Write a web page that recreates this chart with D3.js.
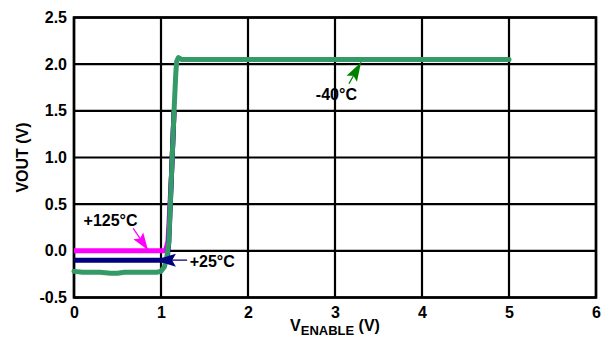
<!DOCTYPE html>
<html><head><meta charset="utf-8">
<script src="https://cdn.jsdelivr.net/npm/d3@7"></script>
<style>body{margin:0;background:#fff}svg{display:block}</style>
</head><body><svg id="c" width="612" height="339" font-family="Liberation Sans, Arial, sans-serif" font-weight="bold"></svg>
<script>
const xTicks = [0,1,2,3,4,5,6];
const yTicks = [-0.5,0.0,0.5,1.0,1.5,2.0,2.5];
const yTickLabels = ["-0.5","0.0","0.5","1.0","1.5","2.0","2.5"];
const xGreen = [0,0.1,0.3,0.42,0.5,0.58,0.7,0.95,1.0,1.04,1.07,1.09,1.12,1.15,1.17,1.18,1.2,1.24,1.5,3,5];
const yGreen = [-0.22,-0.23,-0.23,-0.24,-0.24,-0.23,-0.23,-0.23,-0.22,-0.17,-0.05,0.1,0.8,1.5,1.9,2.03,2.07,2.05,2.05,2.05,2.05];
const xMag = [0,1.05,1.08,1.12,1.15];
const yMag = [0,0,0.1,0.8,1.5];
const xNavy = [0,1.07,1.09,1.12,1.15];
const yNavy = [-0.1,-0.1,0.1,0.8,1.5];
const labels = ["+125°C","+25°C","-40°C"];

const FONT = "Liberation Sans, Arial, sans-serif";
const svg = d3.select("#c");
const L=74,R=596,T=17.5,B=297.5;
const x = d3.scaleLinear().domain([0,6]).range([L,R]);
const y = d3.scaleLinear().domain([-0.5,2.5]).range([B,T]);

const grid = svg.append("g").attr("stroke","#000").attr("stroke-width",2.2);
xTicks.forEach(t=>grid.append("line").attr("x1",x(t)).attr("x2",x(t)).attr("y1",T).attr("y2",B));
yTicks.forEach(t=>grid.append("line").attr("x1",L).attr("x2",R).attr("y1",y(t)).attr("y2",y(t)));
grid.append("rect").attr("x",L).attr("y",T).attr("width",R-L).attr("height",B-T).attr("fill","none").attr("stroke-width",2.6);

const xAxis = svg.append("g").attr("transform",`translate(0,${B})`).call(d3.axisBottom(x).tickValues(xTicks).tickFormat(d3.format("d")).tickSize(0).tickPadding(7));
const yAxis = svg.append("g").attr("transform",`translate(${L},0)`).call(d3.axisLeft(y).tickValues(yTicks).tickFormat((d,i)=>yTickLabels[i]).tickSize(0).tickPadding(7));
[xAxis,yAxis].forEach(a=>{a.select(".domain").remove();a.attr("font-family",FONT).attr("font-size",16);a.selectAll("text").attr("font-weight","bold").attr("fill","#000");});
xAxis.selectAll("text").attr("dy","0.85em");

const line = d3.line().x(d=>x(d[0])).y(d=>y(d[1]));
const z=(a,b)=>a.map((v,i)=>[v,b[i]]);
svg.append("path").attr("d",line(z(xMag,yMag))).attr("fill","none").attr("stroke","#ff00ff").attr("stroke-width",5);
svg.append("path").attr("d",line(z(xNavy,yNavy))).attr("fill","none").attr("stroke","#000080").attr("stroke-width",5);
svg.append("path").attr("d",line(z(xGreen,yGreen))).attr("fill","none").attr("stroke","#349a68").attr("stroke-width",5).attr("stroke-linejoin","round").attr("stroke-linecap","round");

function arrow(x1,y1,x2,y2,col,hl,hw){
  svg.append("line").attr("x1",x1).attr("y1",y1).attr("x2",x2).attr("y2",y2).attr("stroke",col).attr("stroke-width",1.3);
  const a=Math.atan2(y2-y1,x2-x1);
  const bx=x2-hl*Math.cos(a), by=y2-hl*Math.sin(a);
  const px=-Math.sin(a)*hw/2, py=Math.cos(a)*hw/2;
  const mx=x2-hl*0.82*Math.cos(a), my=y2-hl*0.82*Math.sin(a);
  svg.append("path").attr("d",`M${x2},${y2}L${bx+px},${by+py}L${mx},${my}L${bx-px},${by-py}Z`).attr("fill",col);
}
arrow(x(0.68),y(0.24),x(0.85),y(0.01),"#ff00ff",17,12);
arrow(x(1.3),y(-0.1),x(0.93),y(-0.1),"#000080",21,13);
arrow(x(3.16),y(1.79),x(3.3),y(2.02),"#008000",19,12);
const lab = (t,xv,yv)=>svg.append("text").attr("x",x(xv)).attr("y",yv).attr("font-size",16).attr("font-weight","bold").attr("fill","#000").text(t);
lab(labels[0],0.11,226);
lab(labels[1],1.33,267);
lab(labels[2],2.78,100);

svg.append("text").attr("transform",`translate(28,${(T+B)/2}) rotate(-90)`).attr("text-anchor","middle").attr("font-size",16).attr("font-weight","bold").text("VOUT (V)");
const xl = svg.append("text").attr("x",335).attr("y",331).attr("text-anchor","middle").attr("font-size",16).attr("font-weight","bold");
xl.append("tspan").text("V");
xl.append("tspan").attr("font-size",13).attr("dy",4).text("ENABLE");
xl.append("tspan").attr("dy",-4).text(" (V)");
</script></body></html>
